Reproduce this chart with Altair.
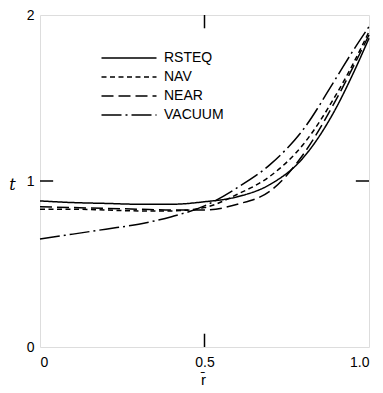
import altair as alt
import pandas as pd

r_vals = [0.0, 0.1, 0.2, 0.3, 0.4, 0.5, 0.6, 0.7, 0.8, 0.9, 0.95, 1.0]
rsteq = [0.88, 0.87, 0.865, 0.86, 0.86, 0.875, 0.905, 0.98, 1.14, 1.44, 1.64, 1.86]
nav = [0.83, 0.83, 0.825, 0.82, 0.82, 0.84, 0.92, 1.03, 1.22, 1.52, 1.70, 1.90]
near = [0.845, 0.84, 0.835, 0.83, 0.825, 0.825, 0.86, 0.94, 1.16, 1.49, 1.68, 1.88]
vacuum = [0.65, 0.68, 0.71, 0.74, 0.785, 0.85, 0.96, 1.10, 1.31, 1.62, 1.78, 1.93]

series_names = ["RSTEQ", "NAV", "NEAR", "VACUUM"]
series_vals = [rsteq, nav, near, vacuum]
dashes = [[1, 0], [5, 3.5], [12, 5], [20, 4, 2, 4]]

x_ticks = [0.0, 0.5, 1.0]
y_ticks = [0, 1, 2]

rows = []
for name, vals in zip(series_names, series_vals):
    for rv, tv in zip(r_vals, vals):
        rows.append({"series": name, "r": rv, "t": tv})
df = pd.DataFrame(rows)

FONT = "Liberation Sans"

xscale = alt.Scale(domain=[0, 1], nice=False, zero=False)
yscale = alt.Scale(domain=[0, 2], nice=False, zero=False)

lines = alt.Chart(df).mark_line(color="black", strokeWidth=1.5,
                                interpolate="monotone").encode(
    x=alt.X("r:Q", scale=xscale,
            axis=alt.Axis(values=x_ticks, ticks=False, domain=False, grid=False,
                          labelExpr="datum.value == 0 ? '0' : format(datum.value, '.1f')",
                          labelFontSize=14, labelFont=FONT, labelColor="black",
                          labelPadding=8, labelOverlap=False,
                          title="r\u0304", titleFont=FONT,
                          titleFontSize=15, titleFontWeight="normal", titleColor="black",
                          titleX=163, titleY=32, titleBaseline="middle")),
    y=alt.Y("t:Q", scale=yscale,
            axis=alt.Axis(values=y_ticks, ticks=False, domain=False, grid=False,
                          labelExpr="format(datum.value, 'd')", labelOverlap=False,
                          labelFontSize=14, labelFont=FONT, labelColor="black",
                          labelPadding=6, title="t", titleFont="DejaVu Serif",
                          titleFontStyle="italic", titleFontSize=16,
                          titleFontWeight="normal", titleColor="black", titleAngle=0,
                          titleX=-28, titleY=169, titleAlign="center",
                          titleBaseline="middle")),
    strokeDash=alt.StrokeDash("series:N",
                              scale=alt.Scale(domain=series_names, range=dashes),
                              legend=alt.Legend(orient="none", legendX=82, legendY=36,
                                                title=None, symbolType="M-5,0H5",
                                                symbolSize=121, symbolStrokeWidth=1.5,
                                                symbolStrokeColor="black",
                                                symbolFillColor="transparent",
                                                labelFontSize=14, labelFont=FONT,
                                                labelColor="black", rowPadding=5,
                                                labelOffset=28)),
    detail="series:N",
)

tick_df = pd.DataFrame({
    "x": [0.5, 0.5, 0.0, 0.96],
    "x2": [0.5, 0.5, 0.04, 1.0],
    "y": [0.0, 1.92, 1.0, 1.0],
    "y2": [0.08, 2.0, 1.0, 1.0],
})
ticks = alt.Chart(tick_df).mark_rule(color="black", strokeWidth=1.5).encode(
    x=alt.X("x:Q", scale=xscale), x2="x2:Q",
    y=alt.Y("y:Q", scale=yscale), y2="y2:Q",
)

chart = alt.layer(lines, ticks).properties(
    width=329, height=332,
    padding={"left": 40, "top": 15, "right": 14, "bottom": 46},
    autosize=alt.AutoSizeParams(type="none"),
).configure_view(stroke="black", strokeWidth=1.5).configure(background="white")

chart.save("out.html", embed_options={"renderer": "svg", "actions": False})
